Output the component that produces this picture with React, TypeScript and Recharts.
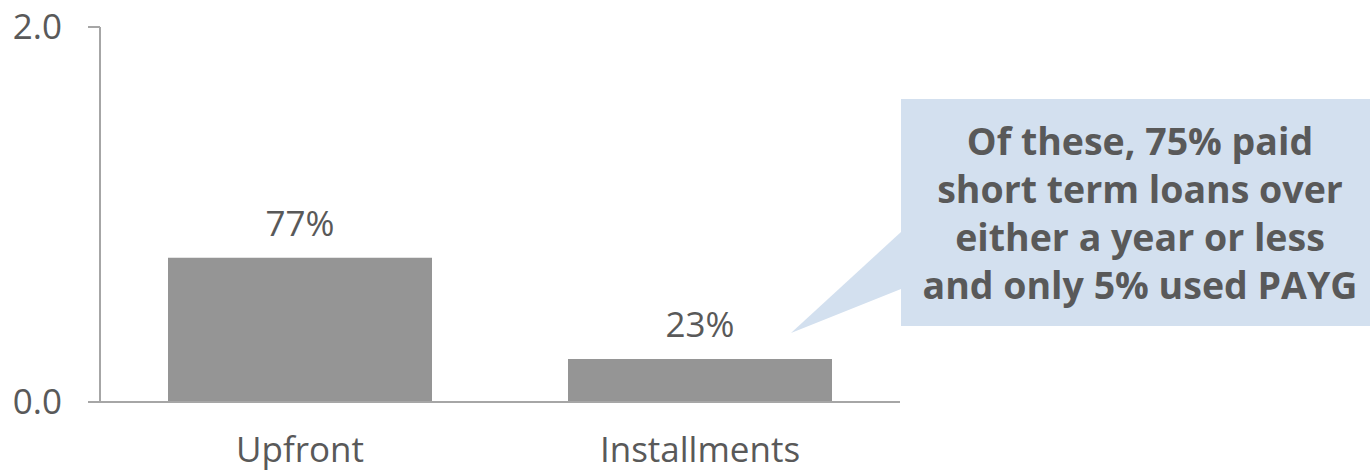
import React from "react";
import { BarChart, Bar, XAxis, YAxis, LabelList } from "recharts";

const categories = ["Upfront", "Installments"];
const shares = [0.77, 0.23];
const yTicks = [0, 2];
const calloutLines = [
  "Of these, 75% paid",
  "short term loans over",
  "either a year or less",
  "and only 5% used PAYG",
];

const data = categories.map((c, i) => ({ name: c, value: shares[i] }));

const FONT = "'Open Sans', 'Noto Sans', sans-serif";
const TEXT = "#595959";
const AXIS = "#a6a6a6";

export default function App() {
  return (
    <div style={{ position: "absolute", left: 0, top: 0, width: 1370, height: 475, background: "#fff" }}>
      <BarChart
        width={1370}
        height={475}
        data={data}
        margin={{ top: 27, right: 470, bottom: 0, left: 0 }}
        barSize={264}
      >
        <YAxis
          width={100}
          domain={[0, 2]}
          ticks={yTicks}
          tickFormatter={(v: number) => v.toFixed(1)}
          axisLine={{ stroke: AXIS, strokeWidth: 2 }}
          tickLine={{ stroke: AXIS, strokeWidth: 2 }}
          tickSize={12}
          tickMargin={26}
          tick={{ fill: TEXT, fontSize: 35, fontFamily: FONT }}
        />
        <XAxis
          dataKey="name"
          height={73}
          axisLine={{ stroke: AXIS, strokeWidth: 2 }}
          tickLine={false}
          tickSize={0}
          tickMargin={35}
          tick={{ fill: TEXT, fontSize: 35, fontFamily: FONT }}
        />
        <Bar dataKey="value" fill="#959595" isAnimationActive={false}>
          <LabelList
            dataKey="value"
            position="top"
            offset={22}
            formatter={(v: number) => `${Math.round(v * 100)}%`}
            style={{ fill: TEXT, fontSize: 35, fontFamily: FONT }}
          />
        </Bar>
      </BarChart>
      <svg
        width={1370}
        height={475}
        style={{ position: "absolute", left: 0, top: 0, pointerEvents: "none" }}
      >
        <polygon points="901,232 791,333 901,289" fill="#d3e0ef" />
        <rect x={901} y={99} width={469} height={227} fill="#d3e0ef" />
        {calloutLines.map((line, i) => (
          <text
            key={i}
            x={1140}
            y={155 + i * 48}
            textAnchor="middle"
            fill={TEXT}
            fontSize={37.5}
            fontWeight={700}
            fontFamily={FONT}
          >
            {line}
          </text>
        ))}
      </svg>
    </div>
  );
}
